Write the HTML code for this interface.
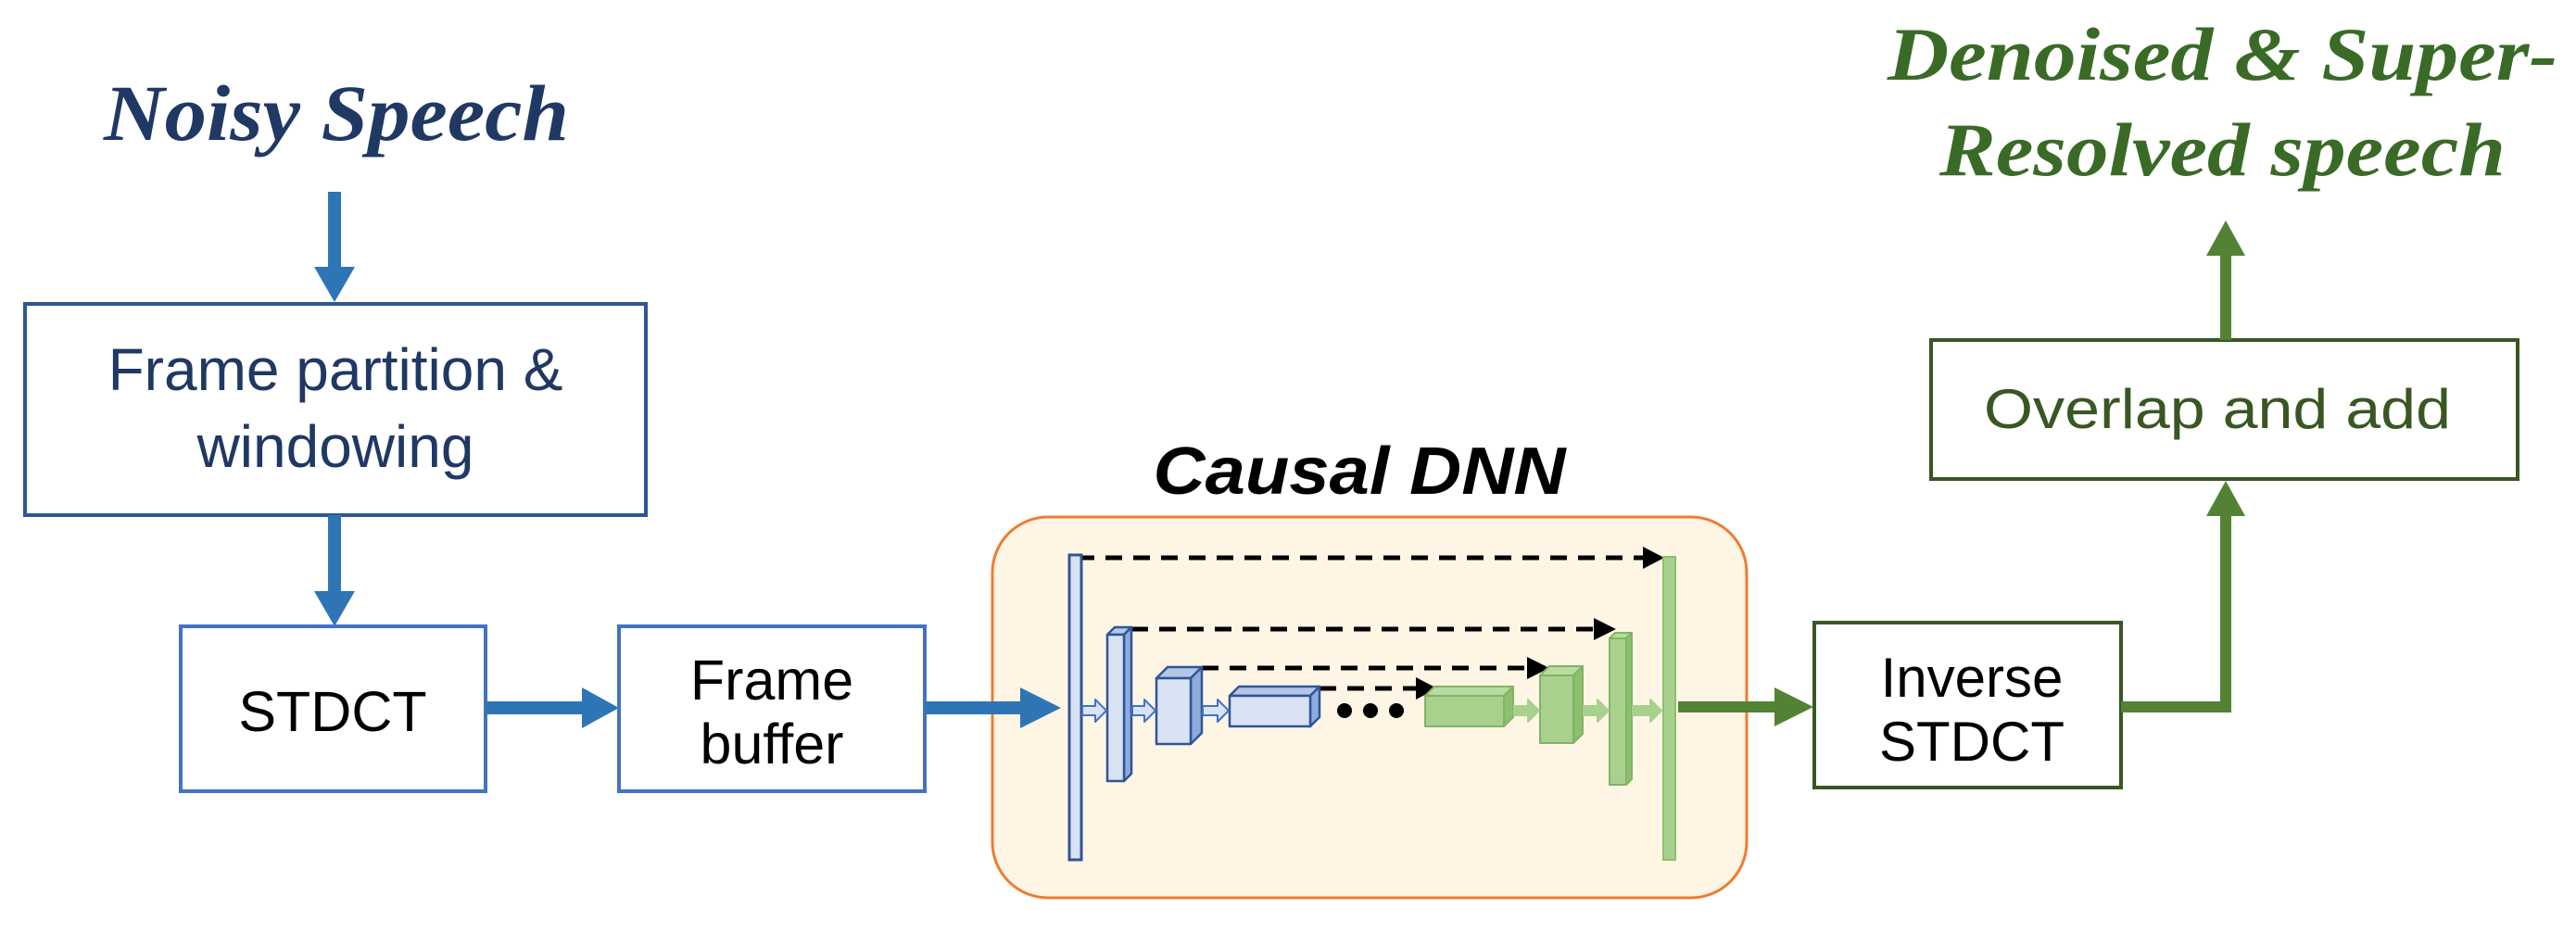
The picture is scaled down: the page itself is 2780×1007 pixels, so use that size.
<!DOCTYPE html>
<html><head><meta charset="utf-8"><style>
html,body{margin:0;padding:0;background:#fff;}
svg{display:block;}
.serif{font-family:"Liberation Serif","Times New Roman",serif;font-weight:bold;font-style:italic;}
.sans{font-family:"Liberation Sans",Arial,sans-serif;}
</style></head><body>
<svg width="2780" height="1007" viewBox="0 0 2780 1007" xmlns="http://www.w3.org/2000/svg">
<!-- Noisy Speech -->
<text class="serif" x="112" y="151" font-size="86" fill="#203864" textLength="502" lengthAdjust="spacingAndGlyphs">Noisy Speech</text>
<line x1="361" y1="207" x2="361" y2="290" stroke="#2e75b6" stroke-width="14"/>
<polygon points="339,288 383,288 361,326" fill="#2e75b6"/>
<rect x="27" y="328" width="670" height="228" fill="#fff" stroke="#2f5597" stroke-width="4"/>
<text class="sans" x="362" y="421" text-anchor="middle" font-size="64" fill="#1f3864">Frame partition &amp;</text>
<text class="sans" x="362" y="504" text-anchor="middle" font-size="64" fill="#1f3864">windowing</text>
<line x1="361" y1="556" x2="361" y2="640" stroke="#2e75b6" stroke-width="14"/>
<polygon points="339,638 383,638 361,676" fill="#2e75b6"/>
<rect x="195" y="676" width="329" height="178" fill="#fff" stroke="#4472c4" stroke-width="4"/>
<text class="sans" x="359" y="789" text-anchor="middle" font-size="61" fill="#000">STDCT</text>
<line x1="524" y1="764" x2="632" y2="764" stroke="#2e75b6" stroke-width="14"/>
<polygon points="628,742 628,786 668,764" fill="#2e75b6"/>
<rect x="668" y="676" width="330" height="178" fill="#fff" stroke="#4472c4" stroke-width="4"/>
<text class="sans" x="833" y="755" text-anchor="middle" font-size="61" fill="#000">Frame</text>
<text class="sans" x="833" y="824" text-anchor="middle" font-size="61" fill="#000">buffer</text>
<text class="sans" x="1467" y="533" text-anchor="middle" font-weight="bold" font-style="italic" font-size="72" fill="#000" textLength="445" lengthAdjust="spacingAndGlyphs">Causal DNN</text>
<rect x="1071" y="558" width="814" height="411" rx="60" ry="60" fill="#fef5e5" stroke="#ed7d31" stroke-width="3"/>
<line x1="998" y1="764" x2="1106" y2="764" stroke="#2e75b6" stroke-width="14"/>
<polygon points="1101,742 1101,786 1145,764" fill="#2e75b6"/>
<g stroke="#000" stroke-width="5" stroke-dasharray="18,12" fill="none">
<line x1="1163" y1="602" x2="1780" y2="602"/>
<line x1="1221" y1="679" x2="1728" y2="679"/>
<line x1="1297" y1="721" x2="1656" y2="721"/>
<line x1="1424" y1="743" x2="1535" y2="743"/>
</g>
<g fill="#000">
<polygon points="1773,590 1773,614 1796,602"/>
<polygon points="1720,667 1720,691 1744,679"/>
<polygon points="1648,709 1648,733 1672,721"/>
<polygon points="1528,731 1528,755 1551,743"/>
</g>
<rect x="1154" y="599" width="13" height="329" fill="#dae3f3" stroke="#2f5597" stroke-width="3"/>
<g stroke="#2f5597" stroke-width="2.5" stroke-linejoin="round">
<polygon points="1195,685 1203,677 1221,677 1213,685" fill="#b4c7e7"/>
<polygon points="1213,685 1221,677 1221,835 1213,843" fill="#8faadc"/>
<rect x="1195" y="685" width="18" height="158" fill="#dae3f3"/>
<polygon points="1248,732 1260,720 1297,720 1285,732" fill="#b4c7e7"/>
<polygon points="1285,732 1297,720 1297,791 1285,803" fill="#8faadc"/>
<rect x="1248" y="732" width="37" height="71" fill="#dae3f3"/>
<polygon points="1327,751 1337,741 1424,741 1414,751" fill="#b4c7e7"/>
<polygon points="1414,751 1424,741 1424,774 1414,784" fill="#8faadc"/>
<rect x="1327" y="751" width="87" height="33" fill="#dae3f3"/>
</g>
<circle cx="1451" cy="767" r="8" fill="#000"/>
<circle cx="1479" cy="767" r="8" fill="#000"/>
<circle cx="1507" cy="767" r="8" fill="#000"/>
<g stroke="#82b366" stroke-width="2" stroke-linejoin="round">
<polygon points="1538,751 1548,741 1633,741 1623,751" fill="#b7dca0"/>
<polygon points="1623,751 1633,741 1633,774 1623,784" fill="#8cc06c"/>
<rect x="1538" y="751" width="85" height="33" fill="#a9d18e"/>
<polygon points="1662,729 1672,719 1708,719 1698,729" fill="#b7dca0"/>
<polygon points="1698,729 1708,719 1708,792 1698,802" fill="#8cc06c"/>
<rect x="1662" y="729" width="36" height="73" fill="#a9d18e"/>
<polygon points="1737,689 1743,683 1761,683 1755,689" fill="#b7dca0"/>
<polygon points="1755,689 1761,683 1761,841 1755,847" fill="#8cc06c"/>
<rect x="1737" y="689" width="18" height="158" fill="#a9d18e"/>
</g>
<rect x="1795" y="601" width="13" height="327" fill="#a9d18e" stroke="#8cc06c" stroke-width="2"/>
<g stroke-width="2" stroke-linejoin="round">
<polygon points="1168,762 1182,762 1182,755 1194,767 1182,779 1182,772 1168,772" fill="#dae3f3" stroke="#4472c4"/>
<polygon points="1222,762 1235,762 1235,755 1247,767 1235,779 1235,772 1222,772" fill="#dae3f3" stroke="#4472c4"/>
<polygon points="1298,762 1314,762 1314,755 1326,767 1314,779 1314,772 1298,772" fill="#dae3f3" stroke="#4472c4"/>
<polygon points="1634,762 1649,762 1649,755 1661,767 1649,779 1649,772 1634,772" fill="#a9d18e" stroke="#a9d18e"/>
<polygon points="1709,762 1724,762 1724,755 1736,767 1724,779 1724,772 1709,772" fill="#a9d18e" stroke="#a9d18e"/>
<polygon points="1762,762 1781,762 1781,755 1793,767 1781,779 1781,772 1762,772" fill="#a9d18e" stroke="#a9d18e"/>
</g>
<line x1="1811" y1="763" x2="1920" y2="763" stroke="#548235" stroke-width="12"/>
<polygon points="1915,742 1915,784 1957,763" fill="#548235"/>
<rect x="1958" y="672" width="331" height="178" fill="#fff" stroke="#385723" stroke-width="4"/>
<text class="sans" x="2128" y="752" text-anchor="middle" font-size="60" fill="#000">Inverse</text>
<text class="sans" x="2128" y="821" text-anchor="middle" font-size="60" fill="#000">STDCT</text>
<polyline points="2289,763 2402,763 2402,555" fill="none" stroke="#548235" stroke-width="12"/>
<polygon points="2381,557 2423,557 2402,519" fill="#548235"/>
<rect x="2084" y="367" width="633" height="150" fill="#fff" stroke="#385723" stroke-width="4"/>
<text class="sans" x="2393" y="462" text-anchor="middle" font-size="60" fill="#385723" textLength="504" lengthAdjust="spacingAndGlyphs">Overlap and add</text>
<line x1="2402" y1="367" x2="2402" y2="272" stroke="#548235" stroke-width="12"/>
<polygon points="2381,276 2423,276 2402,238" fill="#548235"/>
<text class="serif" x="2037" y="86" font-size="82" fill="#3a6b26" textLength="723" lengthAdjust="spacingAndGlyphs">Denoised &amp; Super-</text>
<text class="serif" x="2093" y="189" font-size="82" fill="#3a6b26" textLength="611" lengthAdjust="spacingAndGlyphs">Resolved speech</text>
</svg>
</body></html>
